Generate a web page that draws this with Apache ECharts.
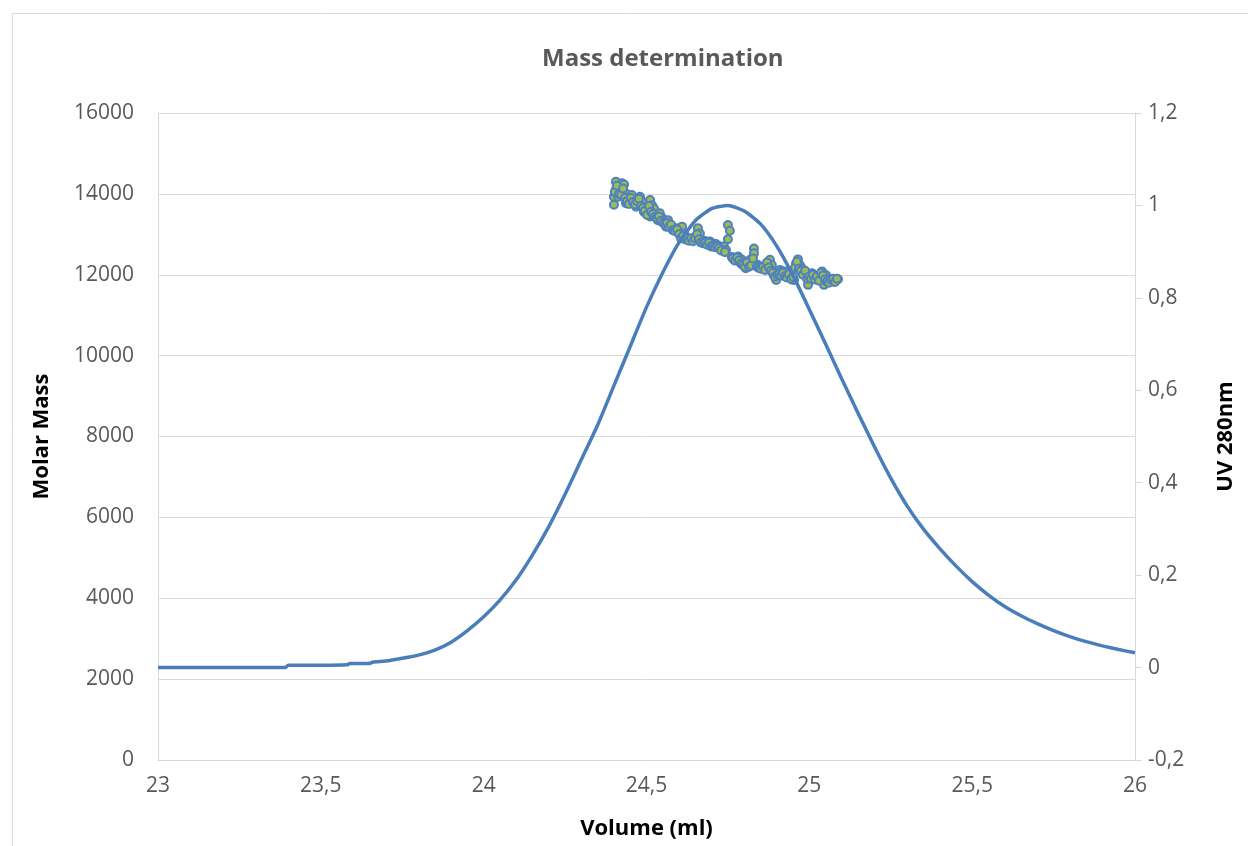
<!DOCTYPE html>
<html>
<head>
<meta charset="utf-8">
<script src="https://cdn.jsdelivr.net/npm/echarts@6/dist/echarts.min.js"></script>
<style>
html,body{margin:0;padding:0;background:#fff;overflow:hidden;}
#chart{width:1248px;height:846px;}
</style>
</head>
<body>
<div id="chart"></div>
<script>
// UV 280nm trace (right axis)
const uvVolume = [23.00,23.10,23.20,23.30,23.39,23.40,23.50,23.58,23.59,23.65,23.66,23.70,23.75,23.80,23.85,23.90,23.95,24.00,24.05,24.10,24.15,24.20,24.25,24.30,24.35,24.40,24.45,24.50,24.55,24.60,24.65,24.70,24.75,24.80,24.85,24.90,24.95,25.00,25.05,25.10,25.15,25.20,25.25,25.30,25.35,25.40,25.45,25.50,25.55,25.60,25.65,25.70,25.75,25.80,25.85,25.90,25.95,26.00];
const uvValue = [0.000,0.000,0.000,0.000,0.000,0.005,0.005,0.006,0.009,0.009,0.012,0.014,0.020,0.027,0.038,0.055,0.080,0.110,0.146,0.190,0.244,0.305,0.375,0.450,0.525,0.610,0.695,0.780,0.855,0.920,0.967,0.993,1.000,0.988,0.960,0.912,0.848,0.775,0.700,0.624,0.550,0.478,0.410,0.350,0.300,0.258,0.220,0.186,0.157,0.132,0.112,0.095,0.080,0.067,0.056,0.047,0.039,0.032];

// Molar mass points (left axis)
const mmVolume = [24.400,24.400,24.406,24.406,24.413,24.413,24.419,24.425,24.425,24.431,24.437,24.437,24.443,24.449,24.455,24.462,24.468,24.474,24.480,24.486,24.492,24.498,24.505,24.511,24.511,24.517,24.523,24.529,24.535,24.541,24.548,24.554,24.560,24.566,24.572,24.578,24.584,24.591,24.597,24.603,24.609,24.615,24.621,24.627,24.634,24.640,24.646,24.652,24.658,24.664,24.670,24.677,24.683,24.689,24.695,24.701,24.707,24.713,24.720,24.726,24.732,24.738,24.744,24.750,24.750,24.756,24.762,24.769,24.775,24.781,24.787,24.793,24.799,24.805,24.812,24.818,24.824,24.830,24.830,24.836,24.842,24.848,24.855,24.861,24.867,24.873,24.879,24.885,24.891,24.898,24.904,24.910,24.916,24.922,24.928,24.934,24.941,24.947,24.953,24.959,24.965,24.971,24.977,24.984,24.990,24.996,25.002,25.008,25.014,25.020,25.027,25.033,25.039,25.045,25.045,25.051,25.057,25.063,25.070,25.076,25.082,25.088];
const molarMass = [13730,13930,14300,14100,13930,14100,14220,14260,14000,14230,13770,14010,13900,13850,13970,13850,13680,13760,13930,13810,13560,13520,13600,13850,13440,13720,13640,13480,13350,13520,13400,13310,13190,13350,13230,13190,13150,13150,13100,13060,13190,13020,12940,12860,12880,12860,12860,12940,13150,13020,12820,12840,12820,12760,12820,12780,12740,12760,12720,12690,12640,12700,12610,13230,12880,13090,12440,12370,12400,12450,12400,12370,12300,12160,12250,12370,12280,12650,12530,12260,12240,12200,12200,12160,12180,12220,12370,12240,11990,11870,12060,12120,12080,12030,12080,11990,11950,11880,11870,12280,12380,12240,12160,12080,11990,11750,12000,12040,11960,11950,11920,12000,12080,11750,11910,11990,11890,11870,11830,11850,11870,11890];
const mmVolumeB = [24.403,24.409,24.416,24.422,24.428,24.434,24.440,24.446,24.452,24.458,24.465,24.471,24.477,24.483,24.489,24.495,24.502,24.508,24.514,24.520,24.526,24.532,24.538,24.544,24.551,24.557,24.563,24.569,24.575,24.581,24.587,24.594,24.600,24.606,24.612,24.618,24.624,24.630,24.637,24.643,24.649,24.655,24.661,24.667,24.674,24.680,24.686,24.692,24.698,24.704,24.710,24.717,24.723,24.729,24.741,24.765,24.772,24.778,24.784,24.790,24.796,24.802,24.808,24.815,24.821,24.827,24.839,24.845,24.851,24.858,24.864,24.870,24.876,24.882,24.888,24.894,24.901,24.907,24.913,24.919,24.925,24.931,24.937,24.944,24.950,24.956,24.962,24.968,24.974,24.980,24.987,24.993,24.999,25.005,25.011,25.017,25.023,25.030,25.036,25.042,25.048,25.054,25.060,25.066,25.073,25.079,25.085];
const molarMassB = [14050,14200,14000,13980,14130,13900,13820,13750,13900,13800,13740,13820,13880,13700,13650,13580,13480,13700,13560,13500,13430,13400,13440,13330,13280,13250,13280,13180,13240,13100,13080,13120,13000,12900,12960,12880,12900,12840,12900,12830,12900,13000,12880,12800,12780,12800,12740,12790,12700,12720,12680,12700,12660,12600,12560,12400,12350,12420,12350,12280,12240,12200,12300,12200,12230,12400,12200,12170,12150,12200,12120,12300,12180,12100,12050,11950,12000,12020,11980,12050,11960,11930,12010,11900,11950,12180,12320,12150,12100,12000,12100,11900,11950,11900,12000,11880,11960,11850,12050,11980,11880,11830,11800,11880,11900,11820,11900];

const xTicks = {min:23, max:26, interval:0.5};
const leftTicks = {min:0, max:16000, interval:2000};
const rightTicks = {min:-0.2, max:1.2, interval:0.2};

const uvData = uvVolume.map((x,i)=>[x, uvValue[i]]);
const mmData = mmVolume.map((x,i)=>[x, molarMass[i]]).concat(mmVolumeB.map((x,i)=>[x, molarMassB[i]]));

const FONT = 'Open Sans';
const comma = v => (Math.round(v*10)/10).toString().replace('.', ',');

const chart = echarts.init(document.getElementById('chart'), null, {renderer:'canvas', width:1248, height:846});
chart.setOption({
  backgroundColor:'#ffffff',
  animation:false,
  title:{
    text:'Mass determination', left:537, top:42,
    textStyle:{fontFamily:FONT, fontSize:24, fontWeight:'bold', color:'#595959'}
  },
  graphic:[{
    type:'rect', shape:{x:12.5, y:13.5, width:1300, height:900},
    style:{fill:'none', stroke:'#d9d9d9', lineWidth:1}, silent:true, z:-10
  }],
  grid:{left:158, top:113, width:977, height:647, containLabel:false},
  xAxis:{
    type:'value', min:xTicks.min, max:xTicks.max, interval:xTicks.interval,
    name:'Volume (ml)', nameLocation:'middle', nameGap:58,
    nameTextStyle:{fontFamily:FONT, fontSize:22, fontWeight:'bold', color:'#000'},
    axisLine:{show:true, lineStyle:{color:'#d9d9d9', width:1}},
    axisTick:{show:false},
    splitLine:{show:false},
    axisLabel:{fontFamily:FONT, fontSize:21, color:'#595959', margin:16, formatter:comma}
  },
  yAxis:[{
    type:'value', min:leftTicks.min, max:leftTicks.max, interval:leftTicks.interval,
    position:'left',
    name:'Molar Mass', nameLocation:'middle', nameGap:105,
    nameTextStyle:{fontFamily:FONT, fontSize:22, fontWeight:'bold', color:'#000'},
    axisLine:{show:true, lineStyle:{color:'#d9d9d9', width:1}},
    axisTick:{show:false},
    splitLine:{show:true, lineStyle:{color:'#d9d9d9', width:1}},
    axisLabel:{fontFamily:FONT, fontSize:21, color:'#595959', margin:24, formatter:v=>String(v)}
  },{
    type:'value', min:rightTicks.min, max:rightTicks.max, interval:rightTicks.interval,
    position:'right',
    name:'UV 280nm', nameLocation:'middle', nameGap:80,
    nameTextStyle:{fontFamily:FONT, fontSize:22, fontWeight:'bold', color:'#000'},
    axisLine:{show:true, lineStyle:{color:'#d9d9d9', width:1}},
    axisTick:{show:true, length:7, inside:false, lineStyle:{color:'#d9d9d9'}},
    splitLine:{show:false},
    axisLabel:{fontFamily:FONT, fontSize:21, color:'#595959', margin:13, formatter:comma}
  }],
  series:[{
    name:'Molar Mass', type:'scatter', yAxisIndex:0, data:mmData,
    symbol:'circle', symbolSize:8,
    itemStyle:{color:'#9bbb59', borderColor:'#4f81bd', borderWidth:2, opacity:1},
    z:2
  },{
    name:'UV 280nm', type:'line', yAxisIndex:1, data:uvData,
    showSymbol:false, symbol:'none', smooth:0.2,
    lineStyle:{color:'#4a7ebb', width:3.5},
    z:3
  }]
});
</script>
</body>
</html>
